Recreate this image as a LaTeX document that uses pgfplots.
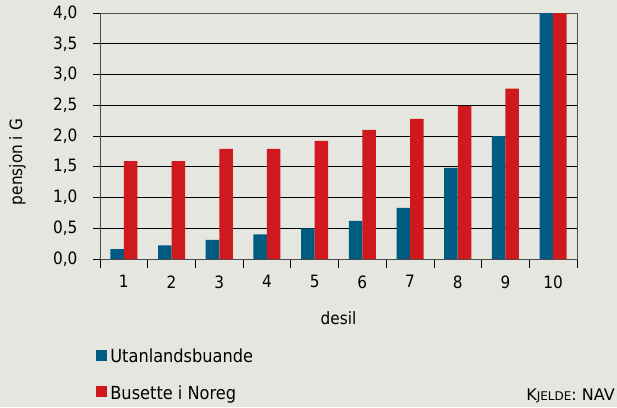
\documentclass[border=0pt]{standalone}
\usepackage{pgfplots}
\pgfplotsset{compat=1.18}
\usepackage{fontspec}
\setmainfont{DejaVu Sans Condensed}
\newfontfamily\srcfont{DejaVu Sans}
\definecolor{bg}{HTML}{E6E6E1}
\definecolor{nblue}{HTML}{005B80}
\definecolor{nred}{HTML}{D0191F}
\begin{document}
\begin{tikzpicture}[x=1pt,y=1pt]
\fill[bg] (0,0) rectangle (617,407);
\path[use as bounding box] (0,0) rectangle (617,407);
\begin{axis}[
  at={(100pt,148pt)}, anchor=south west,
  scale only axis, width=477pt, height=246pt,
  xmin=0.5, xmax=10.5, ymin=0, ymax=4,
  xtick={1,...,10},
  xticklabels={1,2,3,4,5,6,7,8,9,10},
  minor xtick={0.5,1.5,...,10.5},
  ytick={0,0.5,...,4},
  /pgf/number format/assume math mode=true,
  ticklabel style={font=\fontsize{17}{20}\selectfont},
  yticklabel style={xshift=-12pt, /pgf/number format/.cd, fixed, fixed zerofill, precision=1, use comma},
  xticklabel style={yshift=-6pt},
  ymajorgrids, grid style={black, line width=0.8pt},
  tick align=outside, xtick pos=bottom, ytick pos=left,
  major x tick style={draw=none},
  minor x tick style={black, line width=0.8pt},
  major y tick style={black, line width=0.8pt},
  minor tick length=9pt, major tick length=7pt,
  axis line style={black!70, line width=0.8pt},
  xlabel={desil}, ylabel={pensjon i G},
  label style={font=\fontsize{17}{20}\selectfont},
  xlabel style={at={(axis description cs:0.5,-0.24)}, anchor=center},
  ylabel style={at={(axis description cs:-0.173,0.394)}, anchor=center},
  legend style={at={(axis description cs:-0.008,-0.35)}, anchor=north west, draw=none, fill=none,
    font=\fontsize{18}{21}\selectfont, row sep=17pt, legend cell align=left,
    inner xsep=0pt, nodes={inner xsep=3pt}},
  legend image code/.code={\fill[#1,draw=none] (0pt,-4pt) rectangle (11pt,7pt);},
]
\addplot[ybar, bar width=0.283, bar shift=-0.142, fill=nblue, draw=none]
  coordinates {(1,0.16) (2,0.22) (3,0.31) (4,0.40) (5,0.50) (6,0.62) (7,0.83) (8,1.48) (9,2.00) (10,4.0)};
\addlegendentry{Utanlandsbuande}
\addplot[ybar, bar width=0.283, bar shift=0.142, fill=nred, draw=none]
  coordinates {(1,1.59) (2,1.59) (3,1.79) (4,1.79) (5,1.92) (6,2.10) (7,2.28) (8,2.49) (9,2.77) (10,4.0)};
\addlegendentry{Busette i Noreg}
\end{axis}
\node[anchor=base east, inner sep=0pt] at (615,7) {\srcfont\fontsize{16}{19}\selectfont K\fontsize{12}{14}\selectfont JELDE\fontsize{16}{19}\selectfont: NAV};
\end{tikzpicture}
\end{document}
